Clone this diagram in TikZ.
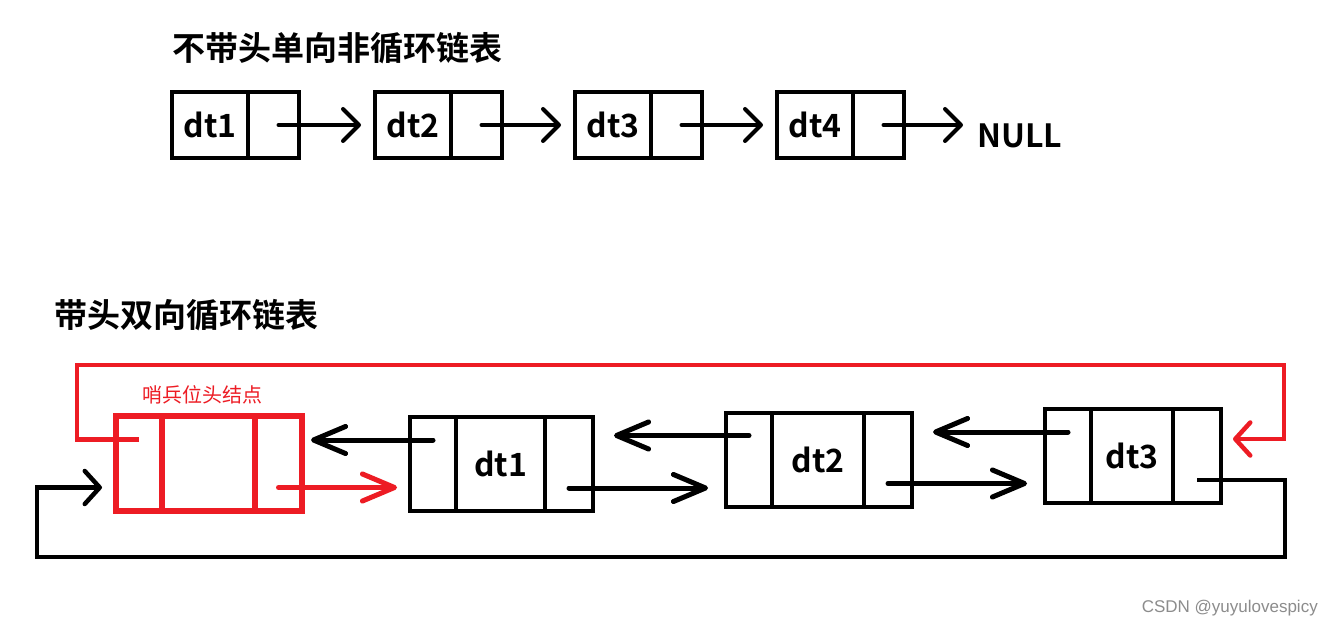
\documentclass[tikz,border=0pt]{standalone}
\usepackage{fontspec}
\setmainfont{Noto Sans CJK SC}[BoldFont={Noto Sans CJK SC Bold}]
\newfontfamily\wmfont{Liberation Sans}
\usetikzlibrary{positioning,arrows.meta}
\definecolor{pred}{RGB}{237,28,36}

\tikzset{
  box/.style={draw, line width=4pt, inner sep=0pt, outer sep=0pt},
  tdata/.style={box, minimum width=76pt, minimum height=66pt, font=\bfseries\fontsize{32}{32}\selectfont},
  tptr/.style={box, minimum width=51pt, minimum height=66pt},
  pcell/.style={box, minimum width=46pt, minimum height=94pt},
  dcell/.style={box, minimum height=94pt, font=\bfseries\fontsize{32}{32}\selectfont},
  hcell/.style={box, draw=pred, line width=6pt, minimum height=95pt},
  title/.style={anchor=west, inner sep=0pt, font=\bfseries\fontsize{33}{33}\selectfont},
  topbarb/.style={line width=4pt, line cap=round, -{Straight Barb[length=16pt, width=32pt, round]}},
  barb/.style={line width=5pt, line cap=round, -{Straight Barb[length=32pt, width=27pt, round]}},
  shortbarb/.style={line width=4.5pt, line cap=round, -{Straight Barb[length=15pt, width=33pt, round]}},
}

\begin{document}
\begin{tikzpicture}[x=1pt, y=-1pt]
  \path[fill=white, use as bounding box] (0,0) rectangle (1334,628);

  % singly linked list without head
  \node[title] (t1) at (172,48) {不带头单向非循环链表};
  \foreach \i/\x in {1/172, 2/375, 3/575, 4/777}{
    \node[tdata, anchor=west] (td\i) at (\x,125) {dt\i};
    \node[tptr, right=0pt of td\i] (tp\i) {};
  }
  \node[anchor=west, inner sep=0pt, font=\bfseries\fontsize{32}{32}\selectfont] (null) at (977,136) {NULL};
  \foreach \i/\j in {1/2, 2/3, 3/4}
    \draw[topbarb, shorten <=5pt, shorten >=14pt] (tp\i.center) -- (tp\i.center -| td\j.west);
  \draw[topbarb, shorten <=5pt, shorten >=14pt] (tp4.center) -- (tp4.center -| null.west);

  % doubly linked circular list with sentinel head
  \node[title] (t2) at (54,315) {带头双向循环链表};
  \node[hcell, minimum width=46pt, anchor=west] (hp) at (116,463.5) {};
  \node[hcell, minimum width=93pt, right=0pt of hp] (hd) {};
  \node[hcell, minimum width=47pt, right=0pt of hd] (hn) {};
  \node[above=12pt of hd.north west, anchor=south west, xshift=-20pt, inner sep=0pt,
        text=pred, font=\fontsize{20}{20}\selectfont] (hlbl) {哨兵位头结点};
  \coordinate (hpu) at ([yshift=24pt]hp.center);
  \coordinate (hpd) at ([yshift=-24pt]hp.center);
  \coordinate (hnd) at ([yshift=-24pt]hn.center);

  \foreach \i/\x/\y/\w in {1/410/464/89, 2/726/459.5/92, 3/1045/456/82}{
    \node[pcell, anchor=west] (p\i) at (\x,\y) {};
    \node[dcell, minimum width=\w pt, right=0pt of p\i] (d\i) {dt\i};
    \node[pcell, minimum width=48pt, right=0pt of d\i] (n\i) {};
    \coordinate (pu\i) at ([yshift=24pt]p\i.center);
    \coordinate (nd\i) at ([yshift=-24pt]n\i.center);
  }

  % prev / next pointers
  \draw[barb, shorten >=9pt] (pu1) -- (pu1 -| hn.east);
  \draw[barb, shorten >=21pt] (pu2) -- (pu2 -| n1.east);
  \draw[barb, shorten >=21pt] (pu3) -- (pu3 -| n2.east);
  \draw[barb, draw=pred, shorten >=13pt] (hnd) -- (hnd -| p1.west);
  \draw[barb, shorten >=18pt] (nd1) -- (nd1 -| p2.west);
  \draw[barb, shorten >=18pt] (nd2) -- (nd2 -| p3.west);

  % wrap-around links
  \coordinate (rl) at (77,365);
  \coordinate (rr) at (1284,439);
  \draw[shortbarb, draw=pred, line cap=butt, shorten >=12pt] (hpu) -| (rl) -| (rr) -- (rr -| n3.east);
  \coordinate (bl) at (37,557);
  \coordinate (br) at (1285,557);
  \draw[shortbarb, line cap=butt, shorten >=14pt] (nd3) -| (br) -- (bl) |- (hpd -| hp.west);

  \node[anchor=east, inner sep=0pt, text=black!45, font=\wmfont\fontsize{17}{17}\selectfont] (wm) at (1318,608) {CSDN @yuyulovespicy};
\end{tikzpicture}
\end{document}
